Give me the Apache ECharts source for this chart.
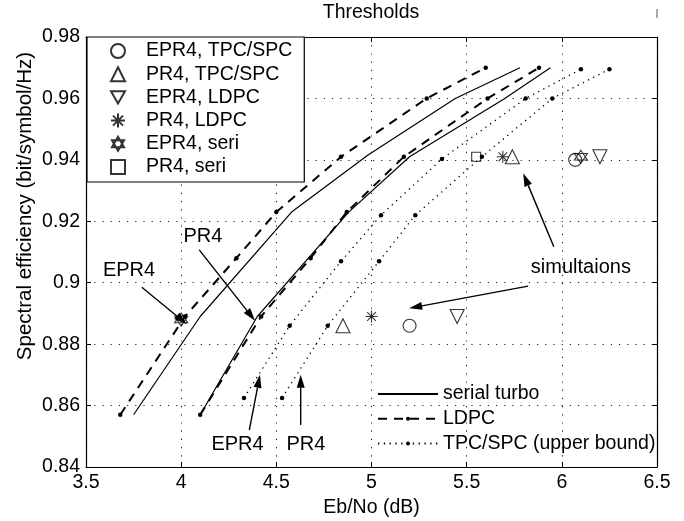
<!DOCTYPE html>
<html><head><meta charset="utf-8">
<script src="https://cdn.jsdelivr.net/npm/echarts@6/dist/echarts.min.js"></script>
<style>html,body{margin:0;padding:0;background:#fff}#c{width:684px;height:521px}</style>
</head><body><div id="c"></div>
<script>
// ---- axes ----
const xTicks = [3.5, 4, 4.5, 5, 5.5, 6, 6.5];
const yTicks = [0.84, 0.86, 0.88, 0.9, 0.92, 0.94, 0.96, 0.98];
const xTitle = 'Eb/No (dB)';
const yTitle = 'Spectral efficiency (bit/symbol/Hz)';

// ---- threshold curves [Eb/No, efficiency] ----
const serialEPR4 = [[3.75,0.857],[4.1,0.889],[4.58,0.923],[4.98,0.9415],[5.44,0.96],[5.78,0.97]];
const serialPR4  = [[4.1,0.857],[4.4,0.889],[4.88,0.923],[5.2,0.941],[5.7,0.96],[5.94,0.97]];
const ldpcEPR4   = [[3.68,0.857],[4.02,0.889],[4.29,0.908],[4.5,0.923],[4.84,0.941],[5.29,0.96],[5.6,0.97]];
const ldpcPR4    = [[4.1,0.857],[4.42,0.889],[4.68,0.908],[4.87,0.923],[5.17,0.941],[5.61,0.96],[5.88,0.97]];
const tpcEPR4    = [[4.33,0.8625],[4.57,0.886],[4.84,0.907],[5.05,0.922],[5.37,0.9403],[5.81,0.96],[6.1,0.9695]];
const tpcPR4     = [[4.53,0.8625],[4.77,0.886],[5.04,0.907],[5.23,0.922],[5.58,0.941],[5.95,0.96],[6.25,0.9695]];

// ---- simulation points ----
const simEPR4TPC  = [[5.2,0.886],[6.07,0.940]];
const simPR4TPC   = [[4.85,0.886],[5.74,0.941]];
const simEPR4LDPC = [[5.45,0.889],[6.2,0.941]];
const simPR4LDPC  = [[5.0,0.889],[5.69,0.941]];
const simEPR4Seri = [[4.0,0.888],[6.1,0.941]];
const simPR4Seri  = [[5.55,0.941]];

// ---- annotations (data coordinates) ----
const noteTexts = ['EPR4','PR4','simultaions','EPR4','PR4'];
const notePos = [[3.726,0.9041],[4.114,0.9152],[6.10,0.9048],[4.296,0.8472],[4.655,0.8472]];
const arrowFrom = [[3.793,0.8985],[4.095,0.9107],[5.958,0.9117],[5.823,0.8989],[4.358,0.852],[4.628,0.8537]];
const arrowTo   = [[4.03,0.8865],[4.388,0.8876],[5.797,0.9356],[5.198,0.8917],[4.414,0.870],[4.628,0.870]];

const FONT = 'Liberation Sans, Arial, Helvetica, sans-serif';
const K = '#000';

const openStyle = {color:'rgba(0,0,0,0)', borderColor:K, borderWidth:1.1};
const SYM_ASTER = 'path://M0,-6L0,6M-6,0L6,0M-4.3,-4.3L4.3,4.3M-4.3,4.3L4.3,-4.3';
const SYM_HEX = 'path://M0,-10L8.66,5L-8.66,5ZM0,10L8.66,-5L-8.66,-5Z';
const SYM_DOWN = 'path://M0,0L10,0L5,8.66Z';

function curve(name, data, lineType, width, dots){
  return {type:'line', name, data, xAxisIndex:0, yAxisIndex:0,
    symbol:'circle', symbolSize:4.5, showSymbol:dots,
    itemStyle:{color:K, opacity: dots ? 1 : 0}, lineStyle:{color:K, width, type:lineType},
    silent:true, z:3};
}
function sim(name, data, symbol, size){
  return {type:'scatter', name, data, symbol, symbolSize:size,
    itemStyle:openStyle, silent:true, z:4};
}

const xAxisBase = {type:'value', min:xTicks[0], max:xTicks[xTicks.length-1], interval:xTicks[1]-xTicks[0]};
const yAxisBase = {type:'value', min:yTicks[0], max:yTicks[yTicks.length-1], interval:+(yTicks[1]-yTicks[0]).toFixed(2)};

const option = {
  animation:false,
  backgroundColor:'#fff',
  textStyle:{fontFamily:FONT, color:K},
  title:{text:'Thresholds', left:371, top:3, textAlign:'center', padding:0,
    textStyle:{fontFamily:FONT, fontSize:19.5, fontWeight:'normal', color:K}},
  grid:{left:86, right:27, top:37, bottom:54, containLabel:false, outerBoundsMode:'none'},
  xAxis:[
    Object.assign({}, xAxisBase, {position:'bottom',
      axisLine:{lineStyle:{color:K, width:1.2}},
      axisTick:{inside:true, length:5, lineStyle:{color:K}},
      axisLabel:{color:K, fontSize:19.5, fontFamily:FONT, margin:6},
      splitLine:{show:true, lineStyle:{color:'#222', width:1.1, type:[1.2,7]}},
      name:xTitle, nameLocation:'middle', nameGap:30,
      nameTextStyle:{color:K, fontSize:19.5, fontFamily:FONT}}),
    Object.assign({}, xAxisBase, {position:'top',
      axisLine:{lineStyle:{color:K, width:1.2}},
      axisTick:{inside:true, length:5, lineStyle:{color:K}},
      axisLabel:{show:false}, splitLine:{show:false}})
  ],
  yAxis:[
    Object.assign({}, yAxisBase, {position:'left',
      axisLine:{lineStyle:{color:K, width:1.2}},
      axisTick:{inside:true, length:5, lineStyle:{color:K}},
      axisLabel:{color:K, fontSize:19.5, fontFamily:FONT, margin:6},
      splitLine:{show:true, lineStyle:{color:'#222', width:1.1, type:[1.2,7]}}}),
    Object.assign({}, yAxisBase, {position:'right',
      axisLine:{lineStyle:{color:K, width:1.2}},
      axisTick:{inside:true, length:5, lineStyle:{color:K}},
      axisLabel:{show:false}, splitLine:{show:false}})
  ],
  legend:[
    {data:['EPR4, TPC/SPC','PR4, TPC/SPC','EPR4, LDPC','PR4, LDPC','EPR4, seri','PR4, seri'],
     orient:'vertical', left:87, top:37, padding:[4,12,5,23], itemWidth:14, itemHeight:14, itemGap:3.2,
     backgroundColor:'#fff', borderColor:K, borderWidth:1.2, selectedMode:false,
     textStyle:{color:K, fontSize:19.5, fontFamily:FONT, padding:[0,0,0,16]}},
    {data:['serial turbo','LDPC','TPC/SPC (upper bound)'],
     orient:'vertical', left:377, top:384, padding:0, itemWidth:60, itemHeight:5, itemGap:4.7,
     selectedMode:false, textStyle:{color:K, fontSize:19.5, fontFamily:FONT}}
  ],
  series:[
    curve('serial turbo', serialEPR4, 'solid', 1.2, false),
    curve('serial turbo', serialPR4, 'solid', 1.2, false),
    curve('LDPC', ldpcEPR4, [9,7], 2, true),
    curve('LDPC', ldpcPR4, [9,7], 2, true),
    curve('TPC/SPC (upper bound)', tpcEPR4, [1.3,4.5], 1.3, true),
    curve('TPC/SPC (upper bound)', tpcPR4, [1.3,4.5], 1.3, true),
    sim('EPR4, TPC/SPC', simEPR4TPC, 'circle', 13),
    sim('PR4, TPC/SPC', simPR4TPC, 'triangle', 14),
    sim('EPR4, LDPC', simEPR4LDPC, SYM_DOWN, 14),
    sim('PR4, LDPC', simPR4LDPC, SYM_ASTER, 12),
    sim('EPR4, seri', simEPR4Seri, SYM_HEX, 13),
    sim('PR4, seri', simPR4Seri, 'rect', 9)
  ]
};

const chart = echarts.init(document.getElementById('c'), null, {renderer:'canvas'});
chart.setOption(option);

function px(p){ return chart.convertToPixel({xAxisIndex:0, yAxisIndex:0}, p); }
const g = [];
for (let i = 0; i < arrowFrom.length; i++) {
  const s = px(arrowFrom[i]), e = px(arrowTo[i]);
  const dx = e[0]-s[0], dy = e[1]-s[1], L = Math.hypot(dx, dy);
  const ux = dx/L, uy = dy/L, hl = 13, hw = 4;
  const bx = e[0]-ux*hl, by = e[1]-uy*hl;
  g.push({type:'line', silent:true, z:10, shape:{x1:s[0], y1:s[1], x2:bx, y2:by}, style:{stroke:K, lineWidth:1.4}});
  g.push({type:'polygon', silent:true, z:10, shape:{points:[[e[0],e[1]],[bx-uy*hw, by+ux*hw],[bx+uy*hw, by-ux*hw]]}, style:{fill:K}});
}
for (let i = 0; i < noteTexts.length; i++) {
  const p = px(notePos[i]);
  g.push({type:'text', silent:true, z:10, x:p[0], y:p[1],
    style:{text:noteTexts[i], fill:K, fontSize:20, fontFamily:FONT, align:'center', verticalAlign:'middle'}});
}
// y-axis title (placed as in the reference, above the axis centre)
g.push({type:'text', silent:true, x:25, y:206, rotation:Math.PI/2,
  style:{text:yTitle, fill:K, fontSize:20.5, fontFamily:FONT, align:'center', verticalAlign:'middle'}});
g.push({type:'line', silent:true, shape:{x1:657, y1:9, x2:657, y2:18}, style:{stroke:'#555', lineWidth:1}});
chart.setOption({graphic:g});
</script>
</body></html>
